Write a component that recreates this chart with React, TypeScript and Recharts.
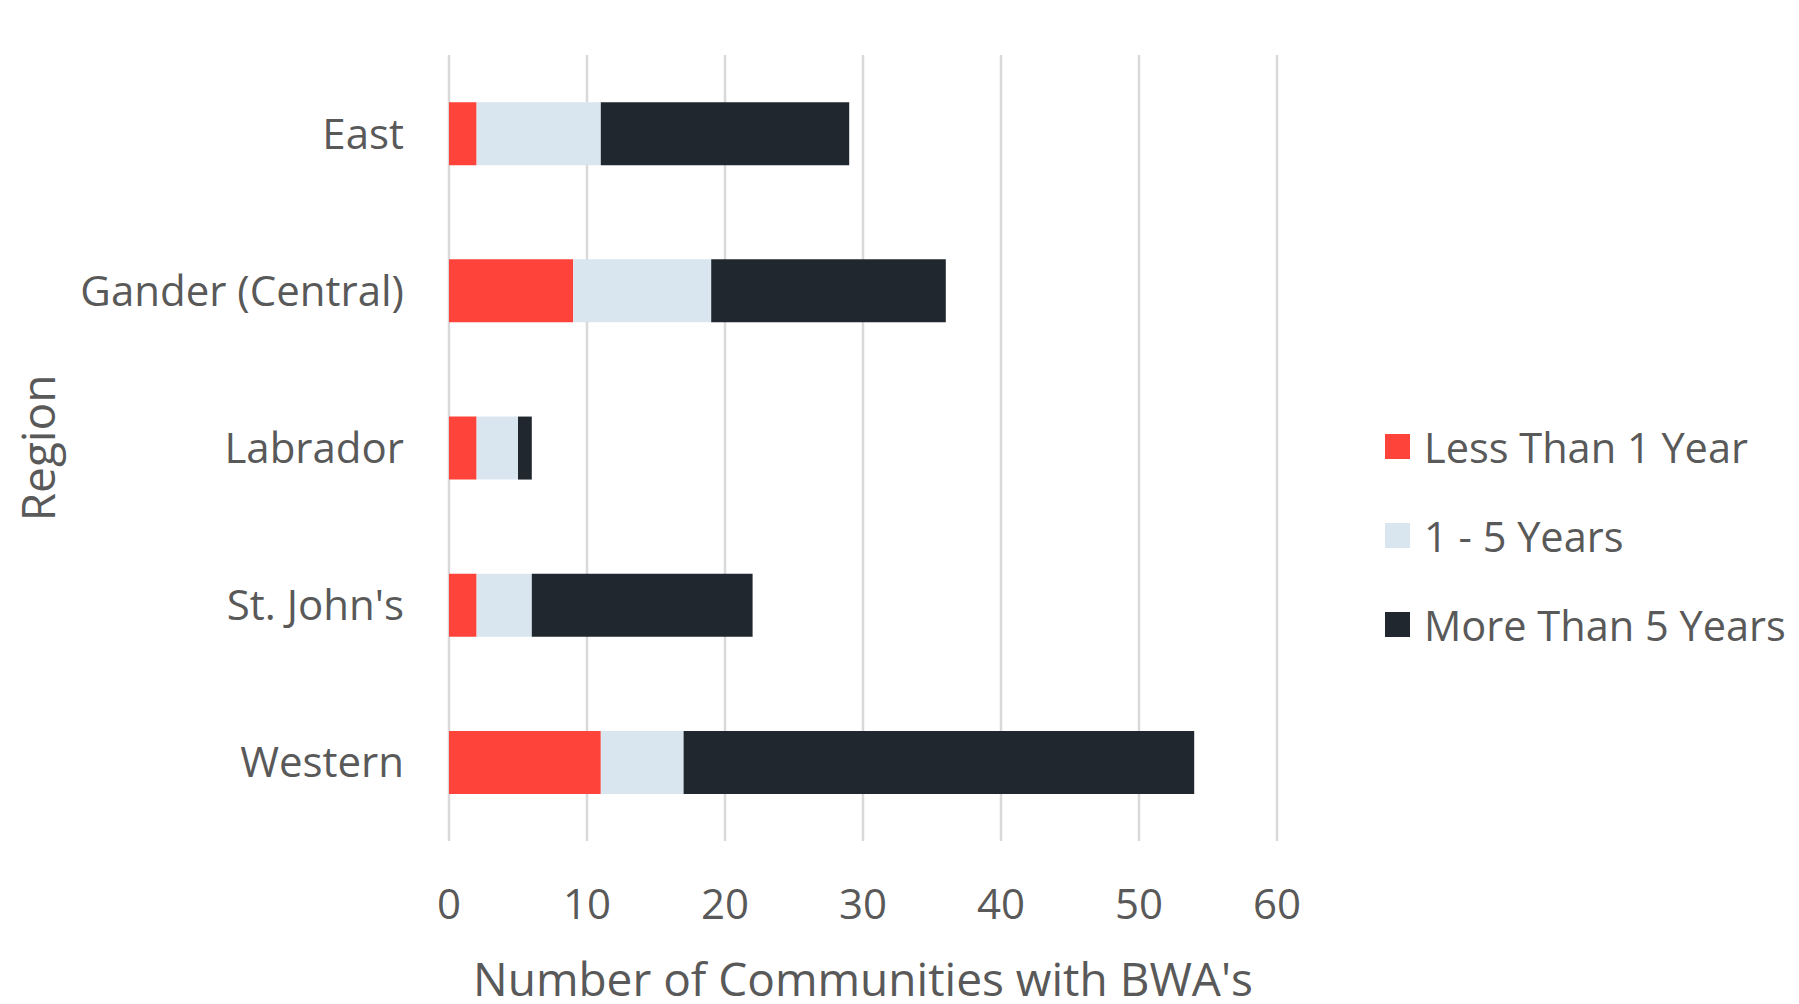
import { BarChart, Bar, XAxis, YAxis, CartesianGrid, Legend, Label } from 'recharts'

const regions = ['East', 'Gander (Central)', 'Labrador', "St. John's", 'Western']
const lessThanOneYear = [2, 9, 2, 2, 11]
const oneToFiveYears = [9, 10, 3, 4, 6]
const moreThanFiveYears = [18, 17, 1, 16, 37]
const xTicks = [0, 10, 20, 30, 40, 50, 60]

const series = [
  { key: 'lessThanOne', name: 'Less Than 1 Year', color: '#FE433A' },
  { key: 'oneToFive', name: '1 - 5 Years', color: '#D9E6EF' },
  { key: 'moreThanFive', name: 'More Than 5 Years', color: '#20272E' },
]

const data = regions.map((region, i) => ({
  region,
  lessThanOne: lessThanOneYear[i],
  oneToFive: oneToFiveYears[i],
  moreThanFive: moreThanFiveYears[i],
}))

const FONT = '"Open Sans", sans-serif'
const TEXT = '#595959'

function LegendList() {
  return (
    <div style={{ fontFamily: FONT, color: TEXT, fontSize: 41.5 }}>
      {series.map((s) => (
        <div key={s.key} style={{ display: 'flex', alignItems: 'center', height: 89 }}>
          <span style={{ width: 25, height: 25, background: s.color, marginRight: 14, display: 'inline-block' }} />
          <span style={{ lineHeight: '42px', whiteSpace: 'nowrap' }}>{s.name}</span>
        </div>
      ))}
    </div>
  )
}

// rotated axis title, centred on the plot's vertical middle
function RegionTitle(props: any) {
  const { viewBox } = props
  const cx = 37
  const cy = viewBox.y + viewBox.height / 2
  return (
    <text
      x={cx}
      y={cy}
      transform={`rotate(-90 ${cx} ${cy})`}
      textAnchor="middle"
      dominantBaseline="central"
      fill={TEXT}
      fontSize={46}
      fontFamily={FONT}
    >
      Region
    </text>
  )
}

function CountTitle(props: any) {
  const { viewBox } = props
  return (
    <text
      x={viewBox.x + viewBox.width / 2}
      y={978}
      textAnchor="middle"
      dominantBaseline="central"
      fill={TEXT}
      fontSize={46}
      fontFamily={FONT}
    >
      Number of Communities with BWA's
    </text>
  )
}

export default function App() {
  return (
    <div style={{ position: 'absolute', left: 0, top: 0, background: '#fff' }}>
      <BarChart
        width={1799}
        height={1004}
        data={data}
        layout="vertical"
        margin={{ top: 55, right: 522, bottom: 0, left: 0 }}
        barCategoryGap="30%"
      >
        <CartesianGrid horizontal={false} stroke="#D9D9D9" strokeWidth={2.5} />
        <XAxis
          type="number"
          domain={[0, 60]}
          ticks={xTicks}
          height={163}
          axisLine={false}
          tickLine={false}
          tickSize={0}
          tickMargin={48}
          tick={{ fill: TEXT, fontSize: 42, fontFamily: FONT }}
        >
          <Label content={CountTitle} />
        </XAxis>
        <YAxis
          type="category"
          dataKey="region"
          width={449}
          axisLine={false}
          tickLine={false}
          tickSize={0}
          tickMargin={45}
          tick={{ fill: TEXT, fontSize: 42, fontFamily: FONT }}
        >
          <Label content={RegionTitle} />
        </YAxis>
        <Legend
          layout="vertical"
          align="center"
          verticalAlign="middle"
          content={<LegendList />}
          wrapperStyle={{ left: 1385, top: 402, width: 'auto' }}
        />
        {series.map((s) => (
          <Bar key={s.key} dataKey={s.key} name={s.name} stackId="a" fill={s.color} isAnimationActive={false} />
        ))}
      </BarChart>
    </div>
  )
}
